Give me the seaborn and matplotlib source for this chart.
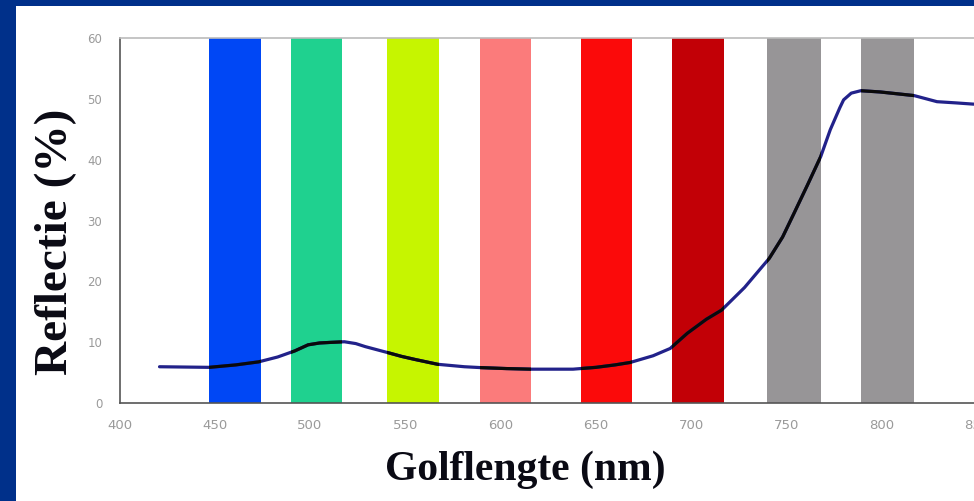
import matplotlib
matplotlib.use("Agg")
import matplotlib.pyplot as plt
import seaborn as sns
import pandas as pd
from matplotlib.patches import Rectangle

# ---- data ----
wavelength = [421, 447, 461, 473, 483, 492, 499, 505, 511, 518, 524, 529, 535, 541,
              548, 555, 561, 567, 574, 581, 590, 603, 616, 626, 638, 650, 660, 668,
              680, 689, 698, 708, 716, 728, 741, 748, 754, 761, 768, 773, 778, 780,
              784, 789, 799, 808, 817, 823, 829, 839, 848, 852]
reflectance = [6.0, 5.9, 6.3, 6.8, 7.6, 8.6, 9.6, 9.9, 10.0, 10.1, 9.8, 9.3, 8.8, 8.3,
               7.7, 7.2, 6.8, 6.4, 6.2, 6.0, 5.85, 5.7, 5.6, 5.6, 5.6, 5.9, 6.3, 6.7,
               7.8, 9.0, 11.5, 13.8, 15.3, 19.0, 23.8, 27.3, 31.2, 35.8, 40.5, 44.9, 48.5, 49.8,
               50.9, 51.3, 51.1, 50.8, 50.5, 50.0, 49.5, 49.3, 49.1, 49.1]

band_start = [447, 490, 540.5, 589, 642, 690, 740, 789]
band_width = [27, 27, 27, 27, 27, 27, 28, 28]
band_colors = ["#0047f5", "#1fd18f", "#c6f500", "#fb7b7b", "#fb0a0a", "#c20006", "#979597", "#979597"]

x_ticks = [400, 450, 500, 550, 600, 650, 700, 750, 800, 850]
y_ticks = [0, 10, 20, 30, 40, 50, 60]

x_label = "Golflengte (nm)"
y_label = "Reflectie (%)"

# ---- style ----
sns.set_style("white")
plt.rcParams["font.family"] = ["DejaVu Sans"]

W, H = 974, 501
fig = plt.figure(figsize=(W / 100, H / 100), dpi=100)
fig.patch.set_facecolor("#00308a")
fig.patches.append(Rectangle((16 / W, 0), 1 - 16 / W, (H - 6) / H,
                             transform=fig.transFigure, facecolor="white",
                             edgecolor="none", zorder=-10))

left = 119.5 / W
bottom = 1 - 403.3 / H
top = 1 - 37.7 / H
right = 977.0 / W
ax = fig.add_axes([left, bottom, right - left, top - bottom])
ax.set_facecolor("none")
ax.set_zorder(1)

bars = ax.bar(band_start, [60] * len(band_start), width=band_width, align="edge",
              color=band_colors, edgecolor="none", zorder=1)

df = pd.DataFrame({"wavelength": wavelength, "reflectance": reflectance})
sns.lineplot(data=df, x="wavelength", y="reflectance", ax=ax, color="#22228a",
             linewidth=2.3, zorder=3)
for b in bars:
    ln, = ax.plot(wavelength, reflectance, color="#0a0a0a", linewidth=2.3, zorder=4)
    ln.set_clip_path(b)

ax.set_xlim(400, 850)
ax.set_ylim(0, 60)
ax.set_xticks(x_ticks)
ax.set_yticks(y_ticks)
ax.set_xticklabels([str(v) for v in x_ticks], color="#9a9a9a", fontsize=9.5)
ax.set_yticklabels([str(v) for v in y_ticks], color="#9a9a9a", fontsize=8.5)
ax.tick_params(axis="both", direction="inout", length=7, width=1, color="#666666")
ax.tick_params(axis="y", pad=9)
ax.tick_params(axis="x", pad=8)

for s in ["left", "bottom"]:
    ax.spines[s].set_color("#555555")
    ax.spines[s].set_linewidth(1.2)
ax.spines["top"].set_color("#bbbbbb")
ax.spines["top"].set_linewidth(1.2)
ax.spines["right"].set_visible(False)

ax.set_xlabel("")
ax.set_ylabel("")
fig.text(525 / W, 1 - 470 / H, x_label, ha="center", va="center",
         fontsize=30, fontweight="bold", family=["Liberation Serif"], color="#0a0a14")
fig.text(56 / W, 1 - 242 / H, y_label, ha="center", va="center", rotation=90,
         fontsize=34, fontweight="bold", family=["Liberation Serif"], color="#0a0a14")

fig.savefig("out.png", dpi=100, facecolor=fig.get_facecolor())
